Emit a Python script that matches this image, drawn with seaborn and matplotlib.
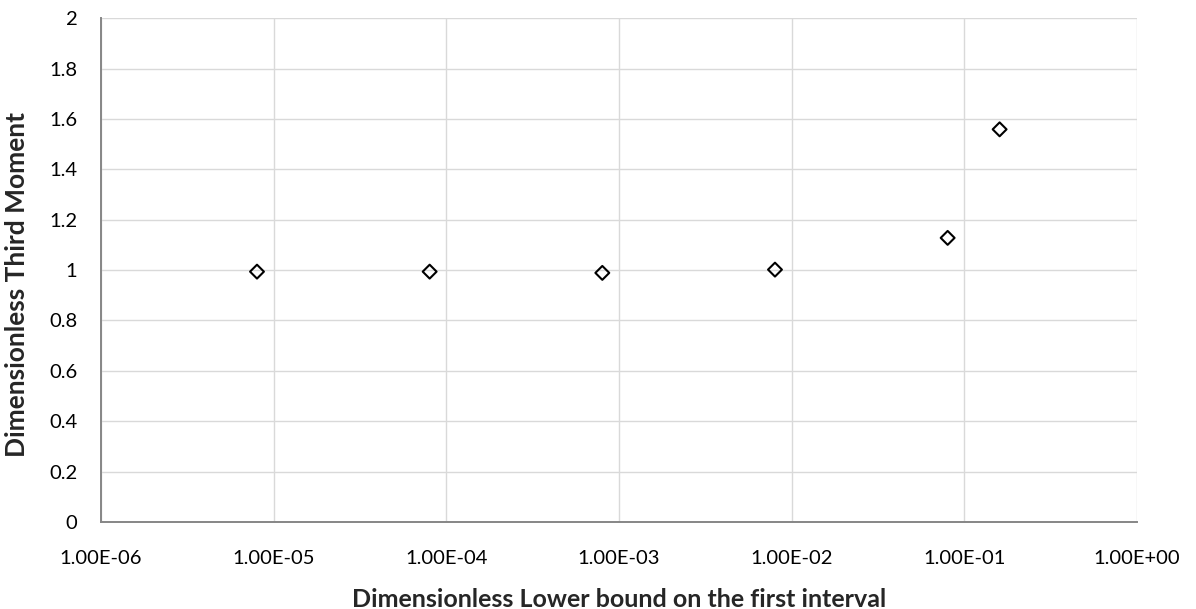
import matplotlib
matplotlib.use("Agg")
import matplotlib.pyplot as plt
import matplotlib.ticker as mticker
import seaborn as sns
import pandas as pd

x_values = [8e-6, 8e-5, 8e-4, 8e-3, 8e-2, 1.6e-1]
y_values = [0.994, 0.994, 0.989, 1.002, 1.128, 1.559]
x_ticks = [1e-6, 1e-5, 1e-4, 1e-3, 1e-2, 1e-1, 1e0]
y_ticks = [0, 0.2, 0.4, 0.6, 0.8, 1.0, 1.2, 1.4, 1.6, 1.8, 2.0]

sns.set_style("white")
plt.rcParams['font.family'] = ['Lato', 'DejaVu Sans']

df = pd.DataFrame({"x": x_values, "y": y_values})

fig = plt.figure(figsize=(11.96, 6.09), dpi=100)
ax = fig.add_axes([0.0845, 0.1429, 0.8662, 0.8271])

sns.scatterplot(data=df, x="x", y="y", marker="D", s=50,
                facecolors="none", edgecolor="black", linewidth=1.5, ax=ax, zorder=3)

ax.set_xscale("log")
ax.set_xlim(1e-6, 1e0)
ax.set_ylim(0, 2)
ax.set_xticks(x_ticks)
ax.xaxis.set_minor_locator(mticker.NullLocator())
ax.xaxis.set_major_formatter(mticker.FuncFormatter(lambda v, p: f"{v:.2E}"))
ax.set_yticks(y_ticks)
ax.yaxis.set_major_formatter(mticker.FuncFormatter(lambda v, p: f"{v:g}"))

ax.grid(True, color="#d9d9d9", linewidth=1.0)
ax.set_axisbelow(True)
for s in ["top", "right"]:
    ax.spines[s].set_visible(False)
for s in ["left", "bottom"]:
    ax.spines[s].set_color("#868686")
    ax.spines[s].set_linewidth(1.4)

ax.tick_params(axis="both", which="major", direction="out", length=6, width=1.4,
               color="#868686", labelsize=14.5, labelcolor="black")
ax.tick_params(axis="x", pad=14)
ax.tick_params(axis="y", pad=11)

ax.set_xlabel("Dimensionless Lower bound on the first interval", fontsize=18,
              fontweight="bold", labelpad=15)
ax.set_ylabel("Dimensionless Third Moment", fontsize=19, fontweight="bold")
ax.yaxis.set_label_coords(-0.07, 0.472)

fig.savefig("out.png", dpi=100)
